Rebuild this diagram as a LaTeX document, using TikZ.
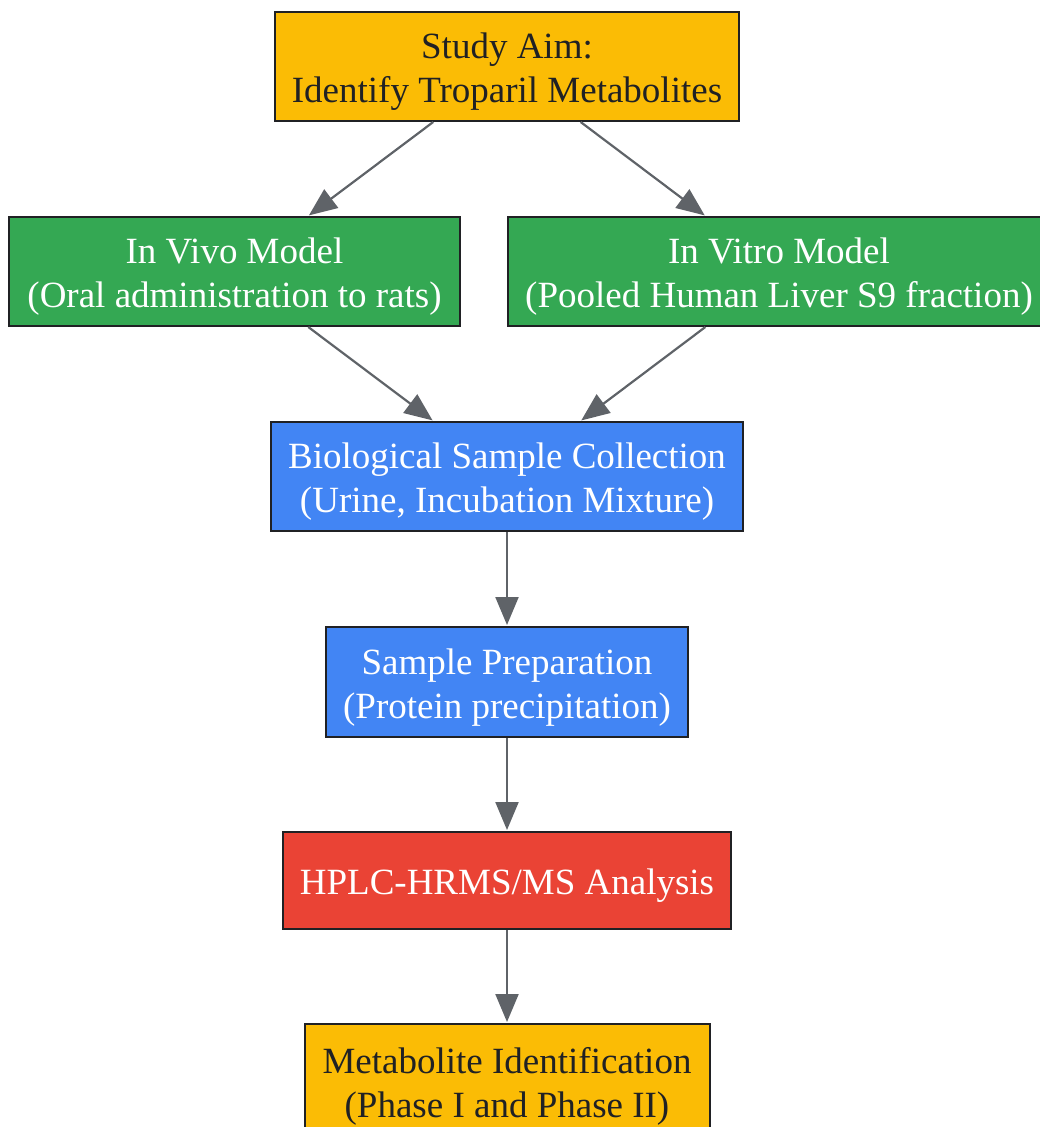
\documentclass[tikz,border=0pt]{standalone}
\usepackage{fontspec}
\setmainfont{Liberation Serif}
\usetikzlibrary{arrows.meta}
\definecolor{gyellow}{HTML}{FBBC05}
\definecolor{ggreen}{HTML}{34A853}
\definecolor{gblue}{HTML}{4285F4}
\definecolor{gred}{HTML}{EA4335}
\definecolor{gdark}{HTML}{202124}
\definecolor{ggray}{HTML}{5F6368}
\tikzset{
  box/.style={draw=gdark, line width=2pt, rectangle, inner sep=0pt},
  ybox/.style={box, fill=gyellow},
  gbox/.style={box, fill=ggreen},
  bbox/.style={box, fill=gblue},
  rbox/.style={box, fill=gred},
  txt/.style={inner sep=0pt, align=center, font=\fontsize{37}{44}\selectfont},
  dtxt/.style={txt, text=gdark},
  wtxt/.style={txt, text=white},
  flow/.style={draw=ggray, line width=2.2pt, -{Triangle[length=28pt,width=23pt]}, shorten >=1pt}
}
\begin{document}
\begin{tikzpicture}[x=1pt,y=-1pt]
\useasboundingbox (0,0) rectangle (1040,1127);
\clip (0,0) rectangle (1040,1127);
\node[ybox, minimum width=464pt, minimum height=109pt] (aim) at (507,66.5) {};
\node[dtxt] (aimt) at ([yshift=-5.5pt]aim.center) {Study Aim:\\Identify Troparil Metabolites};
\node[gbox, minimum width=451pt, minimum height=109pt] (vivo) at (234.5,271.5) {};
\node[wtxt] (vivot) at ([yshift=-5.5pt]vivo.center) {In Vivo Model\\(Oral administration to rats)};
\node[gbox, minimum width=542pt, minimum height=109pt] (vitro) at (779,271.5) {};
\node[wtxt] (vitrot) at ([yshift=-5.5pt]vitro.center) {In Vitro Model\\(Pooled Human Liver S9 fraction)};
\node[bbox, minimum width=472pt, minimum height=109pt] (coll) at (507,476.5) {};
\node[wtxt] (collt) at ([yshift=-5.5pt]coll.center) {Biological Sample Collection\\(Urine, Incubation Mixture)};
\node[bbox, minimum width=362pt, minimum height=110pt] (prep) at (507,682) {};
\node[wtxt] (prept) at ([yshift=-5.5pt]prep.center) {Sample Preparation\\(Protein precipitation)};
\node[rbox, minimum width=448pt, minimum height=97pt] (hplc) at (507,880.5) {};
\node[wtxt] (hplct) at ([yshift=-5.5pt]hplc.center) {HPLC-HRMS/MS Analysis};
\node[ybox, minimum width=405pt, minimum height=114pt] (ident) at (507,1081) {};
\node[dtxt] (identt) at ([yshift=-5.5pt]ident.center) {Metabolite Identification\\(Phase I and Phase II)};
\draw[flow] (aim) -- (vivo);
\draw[flow] (aim) -- (vitro);
\draw[flow] (vivo) -- (coll);
\draw[flow] (vitro) -- (coll);
\draw[flow] (coll) -- (prep);
\draw[flow] (prep) -- (hplc);
\draw[flow] (hplc) -- (ident);
\end{tikzpicture}
\end{document}
